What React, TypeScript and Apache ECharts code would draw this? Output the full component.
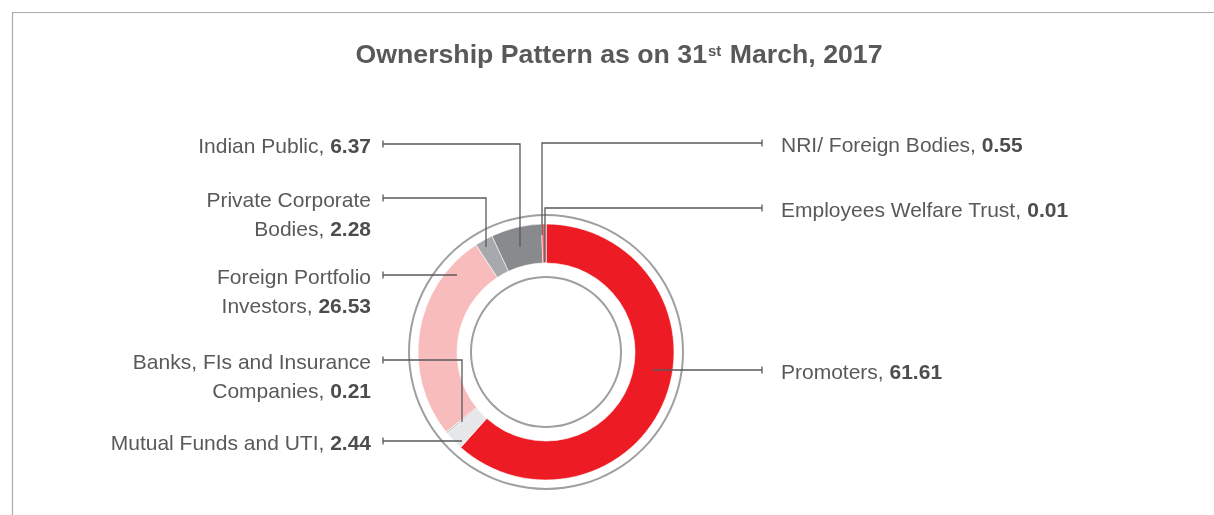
import React, { useEffect, useRef } from "react";
import * as echarts from "echarts";

// ---- data ----
const categories = [
  "Promoters",
  "Mutual Funds and UTI",
  "Banks, FIs and Insurance Companies",
  "Foreign Portfolio Investors",
  "Private Corporate Bodies",
  "Indian Public",
  "NRI/ Foreign Bodies",
  "Employees Welfare Trust",
];
const values = [61.61, 2.44, 0.21, 26.53, 2.28, 6.37, 0.55, 0.01];
const valueLabels = ["61.61", "2.44", "0.21", "26.53", "2.28", "6.37", "0.55", "0.01"];
const colors = ["#ED1C24", "#E6E7E8", "#BCBEC0", "#F9BCBD", "#A7A9AC", "#898A8D", "#F26168", "#D1D3D4"];

const titleMain = "Ownership Pattern as on 31";
const titleSup = "st";
const titleRest = " March, 2017";

// ---- layout (page px) ----
const CX = 546;
const CY = 352;
const LEFT_TICK_X = 383;
const RIGHT_TICK_X = 762;
const LEFT_TEXT_X = 371;
const RIGHT_TEXT_X = 781;
const LINE_H = 29;
// per slice: side, line y, line break word, anchor point inside slice (x, y)
const labelSide = ["right", "left", "left", "left", "left", "left", "right", "right"];
const labelLineY = [370, 441, 360, 275, 198, 144, 143, 208];
const labelBreakAfter = ["", "", "Insurance", "Portfolio", "Corporate", "", "", ""];
const anchorX = [653, 462, 462, 457, 486, 520, 542, 545];
const anchorY = [370, 441, 422, 275, 247, 247, 235, 262];

const FONT = "'Liberation Sans', Arial, Helvetica, sans-serif";
const TEXT_COLOR = "#58595B";
const LINE_COLOR = "#58595B";

function labelText(i: number): string {
  let name = categories[i];
  const br = labelBreakAfter[i];
  if (br) name = name.replace(br + " ", br + "\n");
  const parts = name.split("\n");
  const last = parts.pop() as string;
  const head = parts.map((p) => `{n|${p}}`).join("\n");
  const tail = `{n|${last}, }{b|${valueLabels[i]}}`;
  return head ? head + "\n" + tail : tail;
}

export default function App() {
  const ref = useRef<HTMLDivElement>(null);
  useEffect(() => {
    if (!ref.current) return;
    const chart = echarts.init(ref.current, undefined, { renderer: "svg" });

    const ticks: any[] = categories.map((_, i) => {
      const x = labelSide[i] === "left" ? LEFT_TICK_X : RIGHT_TICK_X;
      return {
        type: "line",
        silent: true,
        shape: { x1: x, y1: labelLineY[i] - 3.5, x2: x, y2: labelLineY[i] + 3.5 },
        style: { stroke: LINE_COLOR, lineWidth: 1.3 },
      };
    });

    const pieData = categories.map((c, i) => ({
      name: c,
      value: values[i],
      itemStyle: { color: colors[i] },
    }));

    chart.setOption({
      animation: false,
      title: {
        text: `{a|${titleMain}}{s|${titleSup}}{a|${titleRest}}`,
        left: 614,
        top: 33,
        textAlign: "center",
        textStyle: {
          rich: {
            a: { fontFamily: FONT, fontSize: 26.7, fontWeight: "bold", color: TEXT_COLOR, lineHeight: 32 },
            s: { fontFamily: FONT, fontSize: 15, fontWeight: "bold", color: TEXT_COLOR, lineHeight: 16, verticalAlign: "top", padding: [5, 1, 0, 1] },
          },
        },
      },
      graphic: [
        {
          type: "rect",
          silent: true,
          shape: { x: 12.5, y: 12.5, width: 1400, height: 700 },
          style: { fill: "none", stroke: "#ABABAB", lineWidth: 1.2 },
        },
        ...ticks,
      ],
      series: [
        {
          type: "pie",
          silent: true,
          center: [CX, CY],
          radius: [136, 138],
          label: { show: false },
          labelLine: { show: false },
          itemStyle: { color: "#9D9FA2" },
          data: [{ value: 1, name: "outer" }],
          z: 1,
        },
        {
          type: "pie",
          silent: true,
          center: [CX, CY],
          radius: [74, 76],
          label: { show: false },
          labelLine: { show: false },
          itemStyle: { color: "#9D9FA2" },
          data: [{ value: 1, name: "inner" }],
          z: 1,
        },
        {
          type: "pie",
          silent: true,
          center: [CX, CY],
          radius: [89, 128],
          startAngle: 90,
          clockwise: true,
          avoidLabelOverlap: false,
          z: 2,
          itemStyle: { borderColor: "#ffffff", borderWidth: 0.6 },
          label: { show: false },
          labelLine: { show: false },
          data: pieData,
        },
        {
          // transparent overlay carrying labels so leader lines sit above slices
          type: "pie",
          silent: true,
          center: [CX, CY],
          radius: [89, 128],
          startAngle: 90,
          clockwise: true,
          avoidLabelOverlap: false,
          z: 3,
          itemStyle: { color: "rgba(0,0,0,0)", borderWidth: 0 },
          label: {
            show: true,
            position: "outside",
            formatter: (p: any) => labelText(p.dataIndex),
            rich: {
              n: { fontFamily: FONT, fontSize: 21, color: TEXT_COLOR, lineHeight: LINE_H },
              b: { fontFamily: FONT, fontSize: 21, fontWeight: "bold", color: "#4D4D4F", lineHeight: LINE_H },
            },
          },
          labelLine: { show: true, lineStyle: { color: LINE_COLOR, width: 1.3 } },
          labelLayout: (p: any) => {
            const i = p.dataIndex;
            const left = labelSide[i] === "left";
            const ly = labelLineY[i];
            const endX = left ? LEFT_TICK_X : RIGHT_TICK_X;
            return {
              x: left ? LEFT_TEXT_X : RIGHT_TEXT_X,
              y: ly + 1 - LINE_H / 2,
              align: left ? "right" : "left",
              verticalAlign: "top",
              labelLinePoints: [
                [anchorX[i], anchorY[i]],
                [anchorX[i], ly],
                [endX, ly],
              ],
            };
          },
          data: categories.map((c, i) => ({ name: c, value: values[i] })),
        },
      ],
    });
    return () => chart.dispose();
  }, []);
  return <div ref={ref} style={{ position: "fixed", left: 0, top: 0, width: 1214, height: 515 }} />;
}
